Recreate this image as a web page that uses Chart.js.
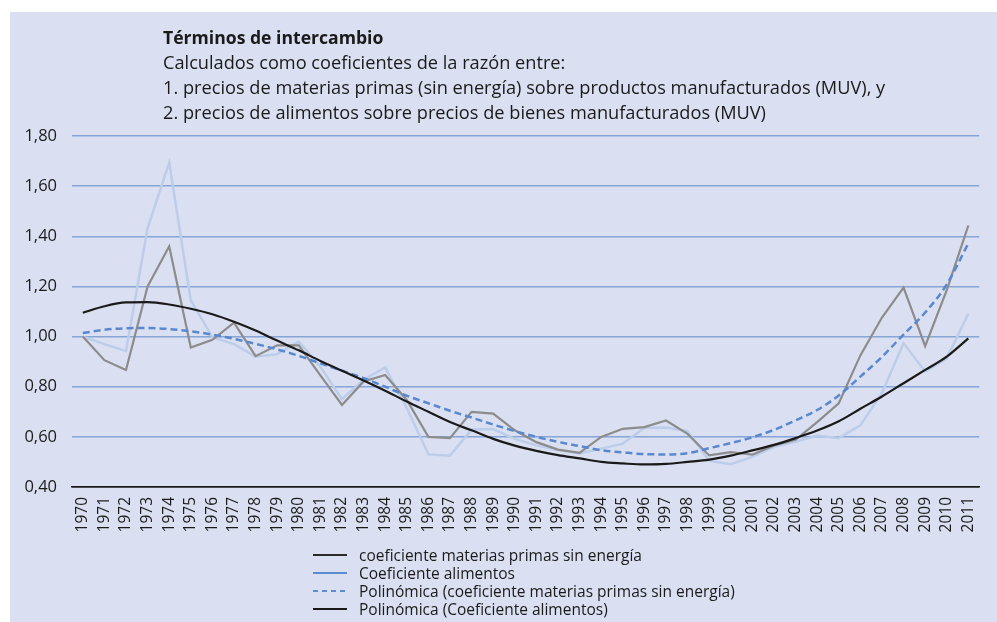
<!DOCTYPE html>
<html>
<head>
<meta charset="utf-8">
<script src="https://cdn.jsdelivr.net/npm/chart.js@4/dist/chart.umd.min.js"></script>
<style>
  html, body { margin: 0; padding: 0; background: #ffffff; }
  body { width: 997px; height: 622px; position: relative; overflow: hidden; font-family: "Open Sans", sans-serif; color: #1a1a1a; }
  #panel { position: absolute; left: 10px; top: 12px; width: 987px; height: 610px; background: #dae0f1; }
  #c { position: absolute; left: 0; top: 0; }
  #title { position: absolute; left: 163px; top: 25px; font-size: 18.2px; line-height: 25px; white-space: nowrap; }
  #title .t { font-weight: 700; font-size: 17.6px; }
  #legend { position: absolute; left: 313px; top: 546px; font-size: 15.5px; line-height: 18px; white-space: nowrap; }
  #legend .row { height: 18px; display: flex; align-items: center; }
  #legend svg { width: 34px; height: 6px; margin-right: 12px; }
</style>
</head>
<body>
<div id="panel"></div>
<canvas id="c" width="997" height="622"></canvas>
<div id="title">
  <div class="t">Términos de intercambio</div>
  <div>Calculados como coeficientes de la razón entre:</div>
  <div>1. precios de materias primas (sin energía) sobre productos manufacturados (MUV), y</div>
  <div>2. precios de alimentos sobre precios de bienes manufacturados (MUV)</div>
</div>
<div id="legend"></div>
<script>
const years = ["1970","1971","1972","1973","1974","1975","1976","1977","1978","1979",
  "1980","1981","1982","1983","1984","1985","1986","1987","1988","1989",
  "1990","1991","1992","1993","1994","1995","1996","1997","1998","1999",
  "2000","2001","2002","2003","2004","2005","2006","2007","2008","2009",
  "2010","2011"];

const materiasPrimas = [1.00,0.906,0.867,1.20,1.36,0.956,0.987,1.056,0.922,0.965,
  0.965,0.845,0.727,0.821,0.847,0.747,0.60,0.595,0.70,0.693,
  0.626,0.579,0.549,0.536,0.60,0.632,0.639,0.665,0.612,0.526,
  0.539,0.529,0.566,0.588,0.659,0.734,0.925,1.076,1.195,0.962,
  1.185,1.443];

const alimentos = [1.00,0.97,0.942,1.433,1.694,1.145,0.997,0.97,0.92,0.93,
  0.98,0.88,0.75,0.828,0.877,0.715,0.53,0.525,0.629,0.631,
  0.592,0.566,0.547,0.534,0.553,0.573,0.635,0.637,0.623,0.504,
  0.491,0.52,0.56,0.58,0.605,0.595,0.646,0.775,0.974,0.86,
  0.912,1.092];

const polyMateriasPrimas = [1.014,1.027,1.033,1.034,1.03,1.021,1.008,0.991,0.971,0.949,
  0.923,0.893,0.864,0.834,0.80,0.764,0.734,0.704,0.677,0.649,
  0.623,0.60,0.58,0.563,0.547,0.538,0.531,0.53,0.535,0.555,
  0.575,0.598,0.628,0.666,0.707,0.765,0.84,0.919,1.008,1.096,
  1.208,1.372];

const polyAlimentos = [1.095,1.121,1.136,1.137,1.128,1.111,1.089,1.059,1.024,0.984,
  0.945,0.903,0.864,0.825,0.784,0.741,0.70,0.659,0.626,0.592,
  0.565,0.544,0.527,0.514,0.50,0.494,0.49,0.492,0.50,0.509,
  0.525,0.546,0.568,0.595,0.625,0.662,0.712,0.761,0.814,0.867,
  0.92,0.993];

const legendLabels = [
  "coeficiente materias primas sin energía",
  "Coeficiente alimentos",
  "Polinómica (coeficiente materias primas sin energía)",
  "Polinómica (Coeficiente alimentos)"
];

const FONT = "'Open Sans', sans-serif";

const chart = new Chart(document.getElementById('c'), {
  type: 'line',
  data: {
    labels: years,
    datasets: [
      { label: legendLabels[0], data: materiasPrimas, borderColor: '#8c8c8c', borderWidth: 2.2, pointRadius: 0, tension: 0, order: 2 },
      { label: legendLabels[1], data: alimentos, borderColor: '#bccdea', borderWidth: 2.5, pointRadius: 0, tension: 0, order: 3 },
      { label: legendLabels[2], data: polyMateriasPrimas, borderColor: '#5a88cf', borderWidth: 2.5, borderDash: [7,4], pointRadius: 0, cubicInterpolationMode: 'monotone', order: 1 },
      { label: legendLabels[3], data: polyAlimentos, borderColor: '#1a1a1a', borderWidth: 2.2, pointRadius: 0, cubicInterpolationMode: 'monotone', order: 0 }
    ]
  },
  options: {
    responsive: false,
    animation: false,
    devicePixelRatio: 1,
    layout: { padding: { left: 0, right: 4, top: 136, bottom: 0 } },
    plugins: { legend: { display: false }, tooltip: { enabled: false }, title: { display: false } },
    scales: {
      x: {
        offset: true,
        grid: { display: false, drawTicks: false },
        border: { display: true, color: '#1a1a1a', width: 1.5 },
        ticks: { color: '#1a1a1a', font: { family: FONT, size: 15.5 }, minRotation: 90, maxRotation: 90, autoSkip: false, padding: 10 },
        afterFit: (s) => { s.height = 135; }
      },
      y: {
        min: 0.4, max: 1.8,
        grid: {
          drawTicks: false,
          color: (ctx) => (ctx.tick && Math.abs(ctx.tick.value - 0.4) < 1e-6) ? '#1a1a1a' : '#86a4d6',
          lineWidth: 1.5
        },
        border: { display: false },
        ticks: {
          stepSize: 0.2, padding: 15, color: '#1a1a1a',
          font: { family: FONT, size: 16.5 },
          callback: (v) => Number(v).toFixed(2).replace('.', ',')
        },
        afterFit: (s) => { s.width = 72; }
      }
    }
  }
});

// HTML legend
const legendSpecs = [
  { color: '#2a2a2a', dash: null },
  { color: '#5b8bd0', dash: null },
  { color: '#5b8bd0', dash: '5,4' },
  { color: '#1a1a1a', dash: null }
];
const lg = document.getElementById('legend');
legendLabels.forEach((txt, i) => {
  const row = document.createElement('div');
  row.className = 'row';
  const sp = legendSpecs[i];
  row.innerHTML = '<svg viewBox="0 0 34 6"><line x1="0" y1="3" x2="34" y2="3" stroke="' + sp.color + '" stroke-width="2.2"' + (sp.dash ? ' stroke-dasharray="' + sp.dash + '"' : '') + '/></svg>';
  const span = document.createElement('span');
  span.textContent = txt;
  row.appendChild(span);
  lg.appendChild(row);
});
</script>
</body>
</html>
